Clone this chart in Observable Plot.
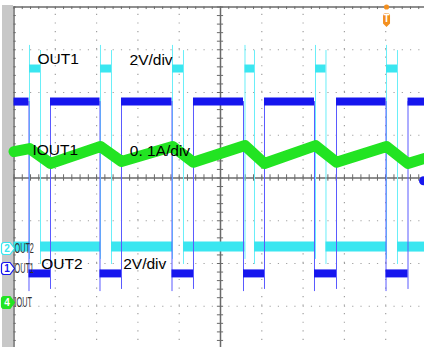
<!DOCTYPE html>
<html><head><meta charset="utf-8">
<script src="https://cdn.jsdelivr.net/npm/d3@7"></script>
<script src="https://cdn.jsdelivr.net/npm/@observablehq/plot@0.6"></script>
<style>
html,body{margin:0;padding:0;background:#fff;overflow:hidden}
#wrap{position:relative;width:424px;height:347px;overflow:hidden}
#bar{position:absolute;left:2px;top:5px;width:11px;height:342px;background:#c8c8c8}
#wrap svg{position:absolute;left:0;top:0}
</style></head><body><div id="wrap"><div id="bar"></div></div>
<script>
// ---- Data (time in screen divisions, 10 div across; values in V / A) ----
const chName = ["OUT1", "OUT2", "IOUT"];
const chNumber = ["1", "2", "4"];
const chGroundDiv = [-2.117, -1.649, -2.912];   // channel reference markers
const chPerDiv = [2, 2, 0.1];                    // 2V/div, 2V/div, 0.1A/div

// OUT2 (cyan) pulse edges
const out2Rise = [0.375, 2.094, 3.838, 5.593, 7.300, 9.020];
const out2Fall = [0.642, 2.361, 4.104, 5.823, 7.554, 9.286];
const out2LowV = 0.09, out2HighV = 8.42;
const out2RiseTopV = 9.50, out2RiseBottomV = -0.51;
const out2FallTopV = 9.26, out2FallBottomV = -0.75;

// OUT1 (blue) edges
const out1Fall = [0.363, 2.082, 3.826, 5.557, 7.276, 9.008];
const out1Rise = [0.884, 2.603, 4.346, 6.065, 7.809, 9.540];
const out1HighV = 7.81, out1LowV = -0.23;
const out1FallBottomV = -1.08, out1RiseBottomV = -0.98;

// IOUT (green) inductor-current triangle
const ioutTime = [0, 0.375, 0.884, 2.094, 2.603, 3.838, 4.346, 5.593, 6.065, 7.300, 7.809, 9.020, 9.540, 9.94];
const ioutAmps = [0.353, 0.360, 0.325, 0.365, 0.330, 0.365, 0.328, 0.367, 0.325, 0.367, 0.328, 0.365, 0.325, 0.337];

const triggerTime = 9.020;
const triggerLevelV = 4.1;   // OUT1 trigger level

const noteText = ["OUT1", "2V/div", "IOUT1", "0. 1A/div", "OUT2", "2V/div"];
const noteT = [0.569, 2.797, 0.448, 2.804, 0.659, 2.644];
const noteV = [2.924, 2.912, 0.784, 0.772, -1.867, -1.860];

// ---- Styles ----
const chColor = ["#1616ee", "#3ae6f0", "#22e422"];
const edgeColor = ["#5a5aff", "#6aeef8"];
const gridColor = "#a0a0a0", axisColor = "#6a6a6a", trigColor = "#f39020";

const toDiv = (ch, v) => v / chPerDiv[ch] + chGroundDiv[ch];

// segments
const out2Low = [0, ...out2Fall].map((t1, i) => ({t1, t2: [...out2Rise, 10][i], v: toDiv(1, out2LowV)}));
const out2High = out2Rise.map((t1, i) => ({t1, t2: out2Fall[i], v: toDiv(1, out2HighV)}));
const out2Edges = [
  ...out2Rise.map(t => ({t, a: toDiv(1, out2RiseBottomV), b: toDiv(1, out2RiseTopV)})),
  ...out2Fall.map(t => ({t, a: toDiv(1, out2FallBottomV), b: toDiv(1, out2FallTopV)}))
];
const out1High = [0, ...out1Rise].map((t1, i) => ({t1, t2: [...out1Fall, 10][i], v: toDiv(0, out1HighV)}));
const out1Low = out1Fall.map((t1, i) => ({t1, t2: out1Rise[i], v: toDiv(0, out1LowV)}));
const out1Edges = [
  ...out1Fall.map(t => ({t, a: toDiv(0, out1FallBottomV), b: toDiv(0, out1HighV)})),
  ...out1Rise.map(t => ({t, a: toDiv(0, out1RiseBottomV), b: toDiv(0, out1HighV)}))
];
const iout = ioutTime.map((t, i) => ({t, v: toDiv(2, ioutAmps[i])}));

const tTicks = d3.range(0, 10.001, 0.2);
const vTicks = d3.range(-4, 4.001, 0.2);

const tagRight = {draw(ctx) {
  ctx.moveTo(-6.5, -3.5); ctx.arc(-4, -3.5, 2.5, Math.PI, 1.5 * Math.PI);
  ctx.lineTo(2, -6); ctx.lineTo(6.5, 0); ctx.lineTo(2, 6); ctx.lineTo(-4, 6);
  ctx.arc(-4, 3.5, 2.5, 0.5 * Math.PI, Math.PI); ctx.closePath();
}};
const tagDown = {draw(ctx) {
  ctx.moveTo(-3.5, -5); ctx.arc(-2, -5, 1.5, Math.PI, 1.5 * Math.PI);
  ctx.lineTo(2, -6.5); ctx.arc(2, -5, 1.5, 1.5 * Math.PI, 2 * Math.PI);
  ctx.lineTo(3.5, 3.5); ctx.lineTo(0, 7); ctx.lineTo(-3.5, 3.5); ctx.closePath();
}};

const marks = [
  // graticule
  Plot.ruleX([1, 2, 3, 4, 6, 7, 8, 9], {x: d => d, y1: -4, y2: 4, stroke: gridColor, strokeWidth: 1.2, strokeDasharray: "1.2 7.35"}),
  Plot.ruleY([-3, -2, -1, 1, 2, 3], {y: d => d, x1: 0, x2: 10, stroke: gridColor, strokeWidth: 1.2, strokeDasharray: "1.2 7.06"}),
  Plot.ruleY([0], {y: d => d, x1: 0, x2: 10, stroke: axisColor, strokeWidth: 1.5}),
  Plot.ruleX([5], {x: d => d, y1: -4, y2: 4, stroke: axisColor, strokeWidth: 1.5}),
  Plot.ruleY([4], {y: d => d, x1: 0, x2: 10, stroke: axisColor, strokeWidth: 1.5}),
  Plot.ruleX([0], {x: d => d, y1: -4, y2: 4, stroke: axisColor, strokeWidth: 1.5}),
  Plot.ruleX(tTicks, {x: d => d, y1: -0.075, y2: 0.075, stroke: axisColor, strokeWidth: 1}),
  Plot.ruleY(vTicks, {y: d => d, x1: 4.925, x2: 5.075, stroke: axisColor, strokeWidth: 1}),
  Plot.ruleX(tTicks, {x: d => d, y1: 4, y2: 3.94, stroke: axisColor, strokeWidth: 1}),
  Plot.ruleY(vTicks, {y: d => d, x1: 0, x2: 0.055, stroke: axisColor, strokeWidth: 1}),
  // OUT2 (cyan)
  Plot.ruleX(out2Edges, {x: "t", y1: "a", y2: "b", stroke: edgeColor[1], strokeWidth: 1}),
  Plot.ruleY(out2Low, {y: "v", x1: "t1", x2: "t2", stroke: chColor[1], strokeWidth: 10}),
  Plot.ruleY(out2High, {y: "v", x1: "t1", x2: "t2", stroke: chColor[1], strokeWidth: 8}),
  // OUT1 (blue)
  Plot.ruleX(out1Edges, {x: "t", y1: "a", y2: "b", stroke: edgeColor[0], strokeWidth: 1}),
  Plot.ruleY(out1High, {y: "v", x1: "t1", x2: "t2", stroke: chColor[0], strokeWidth: 8}),
  Plot.ruleY(out1Low, {y: "v", x1: "t1", x2: "t2", stroke: chColor[0], strokeWidth: 8}),
  // IOUT (green)
  Plot.line(iout, {x: "t", y: "v", stroke: chColor[2], strokeWidth: 11, strokeLinejoin: "round"}),
  // annotations
  Plot.text(noteText, {x: (d, i) => noteT[i], y: (d, i) => noteV[i], text: d => d, textAnchor: "start", lineAnchor: "top",
    fontSize: 15.5, fontFamily: "Liberation Sans, Arial, sans-serif", fill: "#000"}),
  // trigger markers
  Plot.dot([triggerTime], {x: d => d, y: 4, r: 2.6, fill: trigColor}),
  Plot.dot([triggerTime], {x: d => d, y: 4, dy: 13, r: 3, symbol: tagDown, fill: trigColor}),
  Plot.text([triggerTime], {x: d => d, y: 4, dy: 12, text: () => "T", fill: "#fff", fontSize: 10, fontWeight: "bold", fontFamily: "Liberation Sans, Arial"}),
  Plot.dot([triggerLevelV], {x: 10, y: d => toDiv(0, d), dx: -3.5, r: 4.5, fill: chColor[0]})
];
// channel reference markers + labels
[1, 0, 2].forEach(ch => {
  const filled = ch === 2;
  marks.push(Plot.dot([chGroundDiv[ch]], {x: 0, y: d => d, dx: -6, r: 3, symbol: tagRight,
    fill: filled ? chColor[ch] : "#fff", stroke: chColor[ch], strokeWidth: 1.2}));
  marks.push(Plot.text([chGroundDiv[ch]], {x: 0, y: d => d, dx: -7, text: () => chNumber[ch],
    fill: filled ? "#fff" : chColor[ch], fontSize: 10, fontWeight: "bold", fontFamily: "Liberation Sans, Arial"}));
  marks.push(Plot.text([chGroundDiv[ch]], {x: 0, y: d => d, dx: 0.5, text: () => chName[ch], textAnchor: "start",
    fill: "#333", fontSize: 14.01, fontFamily: "Liberation Sans, Arial"}));
});

const svg = Plot.plot({
  width: 424, height: 347, margin: 0,
  x: {domain: [0, 10], range: [13.5, 426.5], axis: null},
  y: {domain: [-4, 4], range: [348.5, 6.5], axis: null},
  style: {background: "transparent", overflow: "hidden"},
  marks
});
document.getElementById("wrap").appendChild(svg);
// condense the channel reference labels (scope's narrow font)
svg.querySelectorAll("text").forEach(t => {
  let el = t, fs = null;
  while (el && el !== svg) { if (el.getAttribute && el.getAttribute("font-size")) { fs = el.getAttribute("font-size"); break; } el = el.parentNode; }
  if (fs !== "14.01" || !chName.includes(t.textContent)) return;
  let tr = t.getAttribute("transform");
  if (!tr) {
    const x = t.getAttribute("x") || 0, y = t.getAttribute("y") || 0;
    t.removeAttribute("x"); t.removeAttribute("y");
    tr = `translate(${x},${y})`;
  }
  t.setAttribute("transform", tr + " scale(0.52,1)");
});
</script></body></html>
